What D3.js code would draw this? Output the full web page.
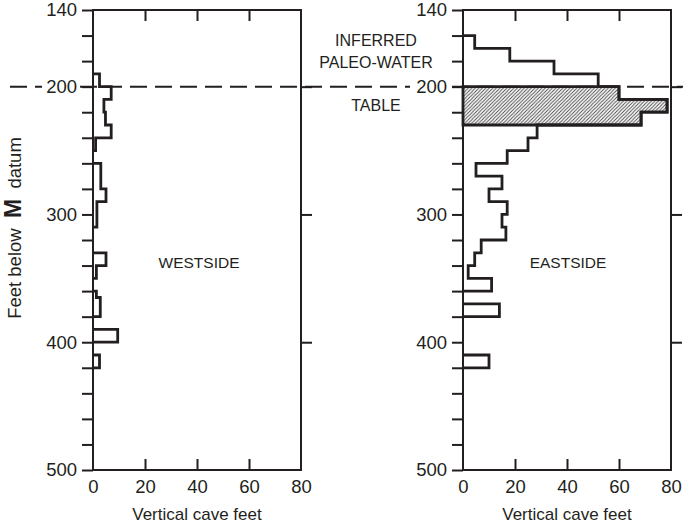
<!DOCTYPE html>
<html>
<head>
<meta charset="utf-8">
<script src="https://cdn.jsdelivr.net/npm/d3@7"></script>
<style>
  body { margin: 0; background: #fff; }
  svg { display: block; font-family: "Liberation Sans", Arial, sans-serif; }
</style>
</head>
<body>
<div id="chart"></div>
<script>

//******************************************************************************
//**  Data (feet below datum, bins of vertical cave feet)
//******************************************************************************
var westFrom = [190, 200, 210, 220, 230, 240, 260, 280, 290, 330, 340, 360, 365, 390, 410];
var westTo   = [200, 210, 220, 230, 240, 250, 280, 290, 310, 340, 350, 365, 380, 400, 420];
var westFeet = [2.5, 7,   4.2, 4.8, 7,   1,   3,   5,   1.5, 5,   1.3, 1.3, 2.8, 9.5, 2.5];

var eastFrom = [160, 170, 180, 190, 200, 210, 220, 230, 240, 250, 260, 270, 280, 290, 300, 310, 320, 330, 340, 350, 370, 410];
var eastTo   = [170, 180, 190, 200, 210, 220, 230, 240, 250, 260, 270, 280, 290, 300, 310, 320, 330, 340, 350, 360, 380, 420];
var eastFeet = [4.5, 18,  35,  52,  60,  78.5,68.5,28.5,25,  17,  5,   15,  10,  17,  15,  16.5,7,   4.5, 2,   11,  14,  10];

var hatchFrom = 200;
var hatchTo = 230;
var waterTable = 200;

var depthDomain = [140, 500];
var depthTicks = [140,160,180,200,220,240,260,280,300,320,340,360,380,400,420,440,460,480,500];
var depthLabels = [140, 200, 300, 400, 500];
var rightTicks = [200, 300, 400];
var feetDomain = [0, 80];
var feetTicks = [0, 20, 40, 60, 80];
var feetInnerTicks = [20, 40, 60];


//******************************************************************************
//**  Layout
//******************************************************************************
var width = 683, height = 529;
var ink = "#231f20";

var svg = d3.select("#chart").append("svg")
    .attr("width", width)
    .attr("height", height);

var defs = svg.append("defs");
var pattern = defs.append("pattern")
    .attr("id", "hatch")
    .attr("patternUnits", "userSpaceOnUse")
    .attr("width", 3.5)
    .attr("height", 3.5);
pattern.append("path")
    .attr("d", "M-1,1 l2,-2 M0,3.5 l3.5,-3.5 M2.5,4.5 l2,-2")
    .attr("stroke", "#444")
    .attr("stroke-width", 0.9);

var y = d3.scaleLinear().domain(depthDomain).range([10, 470]);


//**************************************************************************
//** drawPanel
//**************************************************************************
var drawPanel = function(x0, from, to, feet, name, nameX, hatched){

    var x = d3.scaleLinear().domain(feetDomain).range([x0, x0 + 208]);
    var g = svg.append("g");

  //Hatched zone (water table interval)
    if (hatched){
        var hatchBins = d3.range(from.length).filter(function(i){
            return from[i] >= hatchFrom && to[i] <= hatchTo;
        });
        var hp = d3.path();
        hp.moveTo(x(0), y(hatchFrom));
        hatchBins.forEach(function(i){
            hp.lineTo(x(feet[i]), y(from[i]));
            hp.lineTo(x(feet[i]), y(to[i]));
        });
        hp.lineTo(x(0), y(hatchTo));
        hp.closePath();
        g.append("path")
            .attr("d", hp.toString())
            .attr("fill", "url(#hatch)")
            .attr("stroke", ink)
            .attr("stroke-width", 2.8);
    }

  //Step outlines, one per run of touching bins
    var runs = [];
    var run = null;
    from.forEach(function(f, i){
        if (!run || to[i-1] !== f){
            run = [];
            runs.push(run);
        }
        run.push(i);
    });
    runs.forEach(function(r){
        var p = d3.path();
        p.moveTo(x(0), y(from[r[0]]));
        r.forEach(function(i){
            p.lineTo(x(feet[i]), y(from[i]));
            p.lineTo(x(feet[i]), y(to[i]));
        });
        p.lineTo(x(0), y(to[r[r.length-1]]));
        g.append("path")
            .attr("d", p.toString())
            .attr("fill", "none")
            .attr("stroke", ink)
            .attr("stroke-width", 2.8)
            .attr("stroke-linejoin", "miter");
    });

  //Frame
    g.append("rect")
        .attr("x", x(0))
        .attr("y", y(depthDomain[0]))
        .attr("width", x(80) - x(0))
        .attr("height", y(depthDomain[1]) - y(depthDomain[0]))
        .attr("fill", "none")
        .attr("stroke", ink)
        .attr("stroke-width", 2);

  //Left axis
    g.append("g").attr("transform", "translate(" + x(0) + ",0)")
        .call(d3.axisLeft(y).tickValues(depthTicks).tickSize(11).tickFormat(function(d){
            return depthLabels.indexOf(d) > -1 ? d : "";
        }).tickPadding(5));

  //Right axis
    g.append("g").attr("transform", "translate(" + x(80) + ",0)")
        .call(d3.axisRight(y).tickValues(rightTicks).tickSize(11).tickFormat(""));

  //Top and bottom inner ticks
    g.append("g").attr("transform", "translate(0," + y(depthDomain[0]) + ")")
        .call(d3.axisBottom(x).tickValues(feetInnerTicks).tickSize(11).tickFormat(""));
    g.append("g").attr("transform", "translate(0," + y(depthDomain[1]) + ")")
        .call(d3.axisTop(x).tickValues(feetInnerTicks).tickSize(11).tickFormat(""));

  //Bottom labels
    g.append("g").attr("transform", "translate(0," + y(depthDomain[1]) + ")")
        .call(d3.axisBottom(x).tickValues(feetTicks).tickSize(0).tickPadding(10));

    g.selectAll(".domain").remove();
    g.selectAll(".tick line").attr("stroke", ink).attr("stroke-width", 2);
    g.selectAll(".tick text")
        .attr("fill", ink)
        .style("font-size", "18.5px")
        .style("font-family", "'Liberation Sans', Arial, sans-serif");

    g.append("text")
        .attr("x", (x(0) + x(80)) / 2)
        .attr("y", 520)
        .attr("text-anchor", "middle")
        .attr("fill", ink)
        .style("font-size", "17px")
        .text("Vertical cave feet");

    g.append("text")
        .attr("x", nameX)
        .attr("y", 268)
        .attr("text-anchor", "middle")
        .attr("fill", ink)
        .style("font-size", "15.5px")
        .text(name);

    return x;
};

drawPanel(93, westFrom, westTo, westFeet, "WESTSIDE", 199, false);
drawPanel(463, eastFrom, eastTo, eastFeet, "EASTSIDE", 568, true);


//******************************************************************************
//**  Paleo-water table
//******************************************************************************
var dashSegments = [[10, 42], [80, 410], [452, 683]];
dashSegments.forEach(function(s){
    svg.append("line")
        .attr("x1", s[0]).attr("x2", s[1])
        .attr("y1", y(waterTable)).attr("y2", y(waterTable))
        .attr("stroke", ink)
        .attr("stroke-width", 2)
        .attr("stroke-dasharray", "17,8");
});

var noteLines = [["INFERRED", 46], ["PALEO-WATER", 68], ["TABLE", 111]];
noteLines.forEach(function(n){
    svg.append("text")
        .attr("x", 376)
        .attr("y", n[1])
        .attr("text-anchor", "middle")
        .attr("fill", ink)
        .style("font-size", "16px")
        .text(n[0]);
});


//******************************************************************************
//**  Y title
//******************************************************************************
var ytitle = svg.append("text")
    .attr("transform", "translate(21,228) rotate(-90)")
    .attr("text-anchor", "middle")
    .attr("fill", ink)
    .style("font-size", "18.5px")
    .style("white-space", "pre");
ytitle.append("tspan").text("Feet below  ");
ytitle.append("tspan").style("font-weight", "bold").style("font-size", "23px").text("M");
ytitle.append("tspan").text("  datum");

</script>
</body>
</html>
